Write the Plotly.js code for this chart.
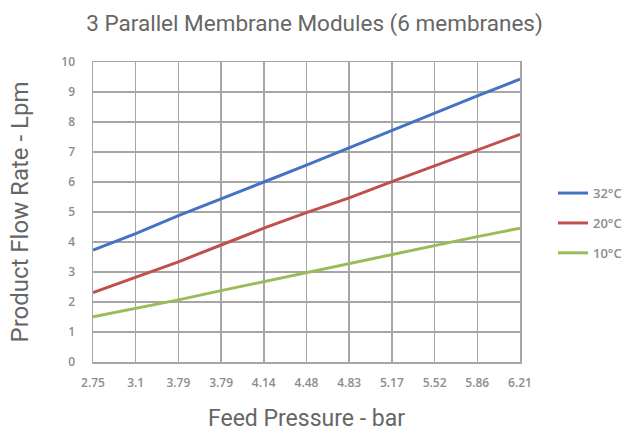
<!DOCTYPE html>
<html>
<head>
<meta charset="utf-8">
<script src="https://cdn.plot.ly/plotly-3.0.1.min.js"></script>
<style>html,body{margin:0;padding:0;background:#fff;}#chart{width:629px;height:432px;}</style>
</head>
<body>
<div id="chart"></div>
<script>
const pressureLabels = ["2.75","3.1","3.79","3.79","4.14","4.48","4.83","5.17","5.52","5.86","6.21"];
const flow32 = [3.73, 4.28, 4.88, 5.43, 6.0, 6.56, 7.14, 7.72, 8.3, 8.87, 9.43];
const flow20 = [2.31, 2.82, 3.34, 3.9, 4.46, 4.98, 5.47, 6.01, 6.53, 7.07, 7.59];
const flow10 = [1.51, 1.79, 2.07, 2.38, 2.68, 2.99, 3.29, 3.57, 3.88, 4.18, 4.46];
const seriesNames = ["32°C", "20°C", "10°C"];
const seriesColors = ["#4472c4", "#c0504d", "#9bbb59"];

const idx = pressureLabels.map((_, i) => i);
const data = [flow32, flow20, flow10].map((ys, k) => ({
  x: idx, y: ys, type: "scatter", mode: "lines",
  name: seriesNames[k], legendgroup: "g" + k,
  line: {color: seriesColors[k], width: 3}
}));

const gray = "#8c8c8c";
const titleGray = "#666666";
const layout = {
  width: 629, height: 432,
  margin: {l: 93, r: 109, t: 62, b: 70, autoexpand: false},
  paper_bgcolor: "#fff", plot_bgcolor: "#fff",
  title: {text: "3 Parallel Membrane Modules (6 membranes)", x: 0.5, xref: "container", xanchor: "center",
          y: 0.947, yref: "container", yanchor: "middle",
          font: {family: "Roboto, sans-serif", size: 22.5, color: titleGray}},
  xaxis: {
    range: [0, 10], tickvals: idx, ticktext: pressureLabels,
    showgrid: true, gridcolor: "#a6a6a6", gridwidth: 1.5,
    showline: true, linecolor: "#a6a6a6", linewidth: 1.5, mirror: true,
    zeroline: false, ticks: "", ticklen: 0, ticklabelstandoff: 9,
    tickfont: {family: "Open Sans, sans-serif", size: 12, color: gray, weight: 600},
    title: {text: "Feed Pressure - bar", standoff: 20,
            font: {family: "Roboto, sans-serif", size: 23, color: titleGray}}
  },
  yaxis: {
    range: [0, 10], dtick: 1, tick0: 0,
    showgrid: true, gridcolor: "#a6a6a6", gridwidth: 1.5,
    showline: true, linecolor: "#a6a6a6", linewidth: 1.5, mirror: true,
    zeroline: false, ticks: "", ticklen: 0, ticklabelstandoff: 14,
    tickfont: {family: "Open Sans, sans-serif", size: 12, color: gray, weight: 600},
    title: {text: "Product Flow Rate - Lpm", standoff: 26,
            font: {family: "Roboto, sans-serif", size: 24, color: titleGray}}
  },
  showlegend: true,
  legend: {x: 553 / 629, xref: "container", xanchor: "left", y: 0.463, yanchor: "middle",
           traceorder: "grouped", tracegroupgap: 10,
           font: {family: "Open Sans, sans-serif", size: 13, color: gray, weight: 600},
           bgcolor: "rgba(0,0,0,0)"}
};

Plotly.newPlot("chart", data, layout, {displayModeBar: false, staticPlot: true});
</script>
</body>
</html>
